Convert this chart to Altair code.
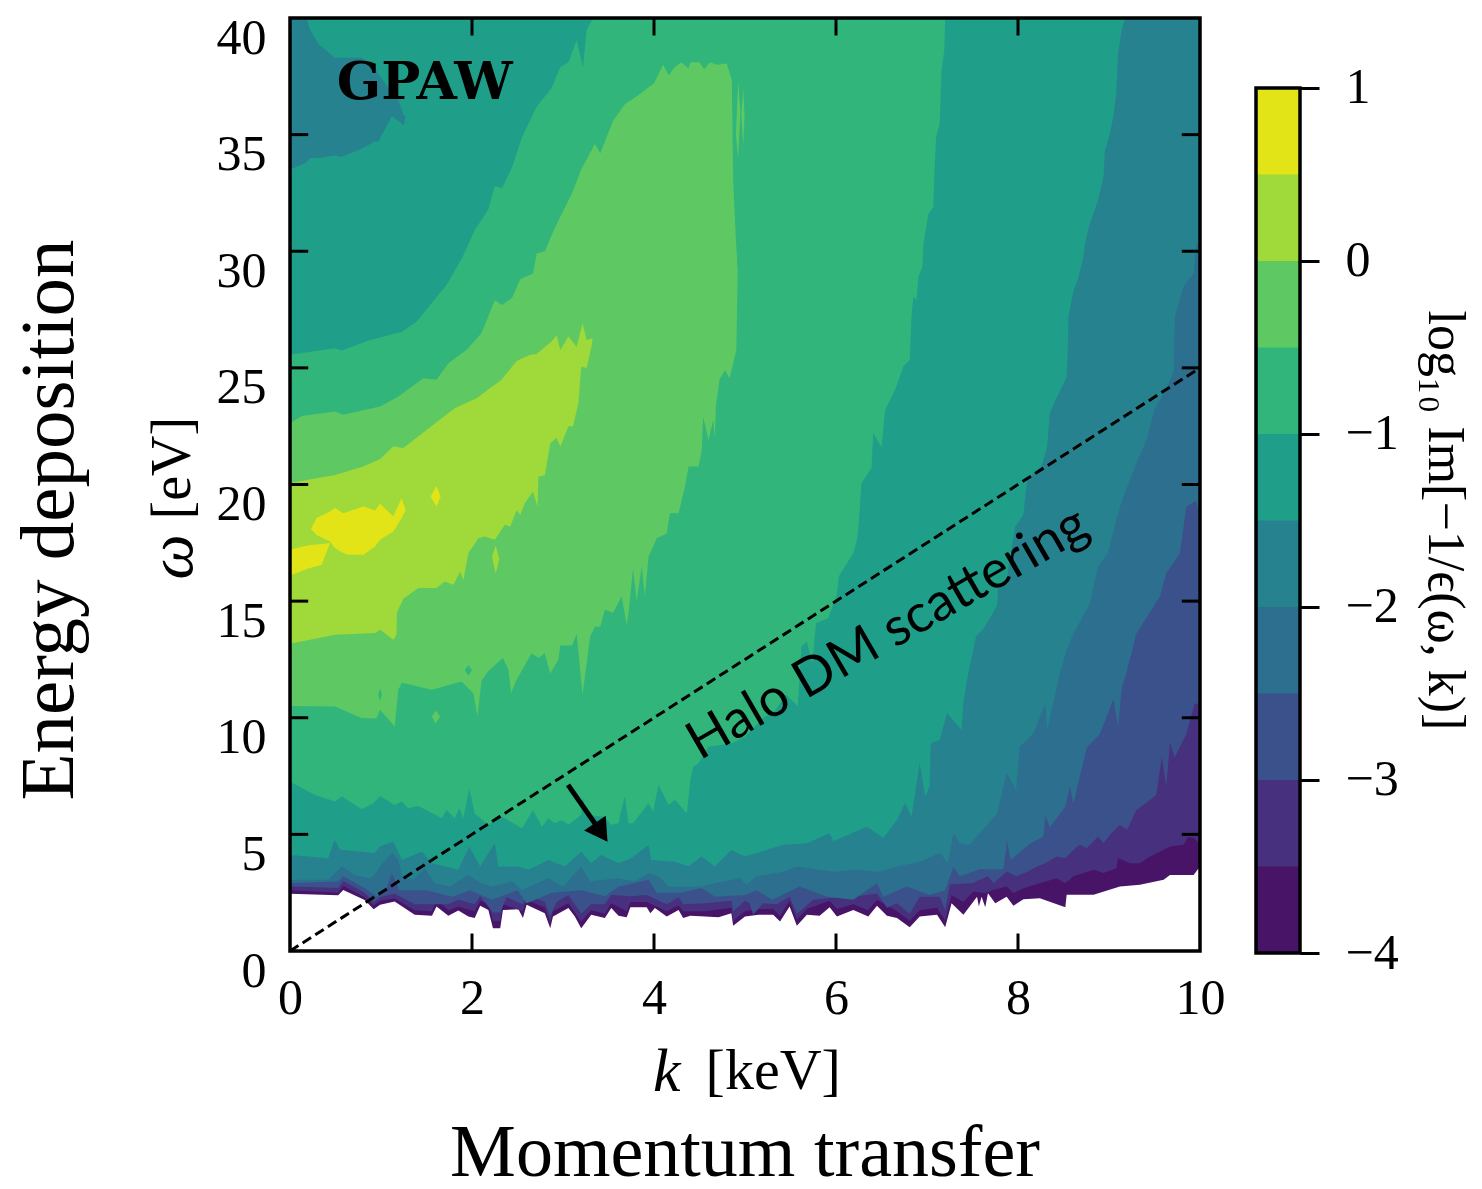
import altair as alt
import pandas as pd

SERIF = "Liberation Serif"

# boundaries: (k in keV, omega in eV)
edge_a = [(0,2.45),(.53,2.39),(.585,2.62),(.82,2.19),(.92,1.79),(.99,1.98),(1.15,2.12),(1.37,1.55),(1.56,1.51),(1.61,1.91),(1.74,1.51),(1.85,1.74),(1.96,1.48),(2.03,1.41),(2.09,1.94),(2.18,1.76),(2.23,.98),(2.31,.98),(2.34,1.76),(2.51,1.79),(2.56,1.41),(2.6,1.98),(2.8,1.62),(2.86,.98),(2.89,1.48),(3.06,1.84),(3.13,1.48),(3.2,.98),(3.31,1.55),(3.46,1.41),(3.53,1.84),(3.61,1.51),(3.7,1.45),(3.74,1.88),(3.92,1.88),(3.96,1.62),(4.01,1.84),(4.14,1.48),(4.27,1.76),(4.32,1.41),(4.4,1.51),(4.56,1.48),(4.71,1.45),(4.85,1.62),(4.87,1.08),(5.0,1.48),(5.15,1.55),(5.31,1.55),(5.385,1.26),(5.49,1.91),(5.57,1.08),(5.68,1.55),(5.82,1.51),(5.93,1.88),(6.01,1.48),(6.19,1.76),(6.355,1.48),(6.45,1.94),(6.56,1.51),(6.67,1.41),(6.81,1.02),(6.92,1.48),(7.11,1.55),(7.2,1.02),(7.27,2.05),(7.4,1.55),(7.55,2.33),(7.57,1.91),(7.6,2.33),(7.64,1.88),(7.67,2.48),(7.75,2.05),(7.875,2.33),(7.95,1.94),(8.06,2.22),(8.24,2.26),(8.52,1.88),(8.535,2.41),(8.83,2.41),(9.12,2.76),(9.34,2.84),(9.6,3.05),(9.67,3.26),(9.93,3.26),(10,3.62)]
edge_b = [(0,2.6),(.53,2.5),(.585,2.8),(.82,2.3),(.92,1.95),(.99,2.15),(1.15,2.25),(1.37,1.75),(1.56,1.7),(1.61,2.2),(1.74,1.75),(1.85,1.9),(2.03,1.7),(2.09,2.15),(2.18,2.0),(2.23,1.3),(2.31,1.3),(2.34,2.0),(2.56,1.7),(2.6,2.2),(2.8,1.85),(2.86,1.2),(2.89,1.7),(3.06,2.05),(3.2,1.25),(3.31,1.75),(3.46,1.6),(3.53,2.05),(3.7,1.7),(3.74,2.1),(3.92,2.1),(4.14,1.7),(4.27,1.95),(4.32,1.7),(4.56,1.7),(4.85,1.85),(4.87,1.3),(5.0,1.7),(5.15,1.8),(5.31,1.8),(5.385,1.5),(5.49,2.15),(5.57,1.35),(5.68,1.8),(5.93,2.15),(6.01,1.8),(6.19,2.0),(6.355,1.75),(6.45,2.2),(6.67,1.7),(6.81,1.3),(6.92,1.75),(7.11,1.85),(7.2,1.3),(7.27,2.4),(7.4,2.1),(7.51,2.55),(7.64,2.48),(7.73,2.62),(7.875,2.76),(7.95,2.48),(8.06,2.69),(8.24,2.9),(8.425,3.12),(8.52,2.9),(8.61,3.2),(8.83,3.48),(8.94,3.34),(9.08,3.55),(9.1,3.98),(9.23,3.76),(9.34,3.76),(9.45,4.05),(9.56,4.26),(9.67,4.48),(9.82,4.55),(9.87,4.9),(9.93,4.84),(10,4.6)]
edge_c = [(0,2.77),(.53,2.7),(.585,3.0),(.82,2.5),(.92,2.1),(.99,2.3),(1.15,2.45),(1.37,2.0),(1.56,2.0),(1.74,2.0),(1.85,2.2),(2.03,2.0),(2.09,2.35),(2.23,1.65),(2.31,1.65),(2.38,2.3),(2.56,2.0),(2.6,2.4),(2.8,2.1),(2.86,1.5),(2.93,2.1),(3.06,2.4),(3.2,1.6),(3.31,2.0),(3.46,2.0),(3.53,2.4),(3.74,2.35),(3.92,2.4),(4.14,2.0),(4.27,2.3),(4.32,2.0),(4.56,2.05),(4.85,2.15),(4.87,1.7),(5.0,2.15),(5.05,2.05),(5.09,1.55),(5.2,2.05),(5.35,2.0),(5.49,2.33),(5.57,1.6),(5.75,2.2),(5.93,2.27),(6.19,2.33),(6.45,2.47),(6.56,1.85),(6.67,2.05),(6.81,1.6),(6.92,2.33),(7.14,2.33),(7.2,1.75),(7.25,2.85),(7.51,2.91),(7.58,3.05),(7.67,3.2),(7.73,2.9),(7.875,3.4),(7.985,3.2),(8.1,3.4),(8.2,3.6),(8.3,3.76),(8.425,4.05),(8.52,3.98),(8.63,4.4),(8.68,4.55),(8.755,4.4),(8.88,4.9),(8.94,4.62),(9.01,4.98),(9.12,5.4),(9.2,5.2),(9.3,6.05),(9.41,6.34),(9.52,6.7),(9.58,8.3),(9.63,7.05),(9.67,8.95),(9.72,8.3),(9.85,9.3),(9.94,10.6),(10,10.6)]
edge_d = [(0,2.9),(.53,2.98),(.585,3.2),(.82,2.7),(.95,2.35),(1.05,2.6),(1.12,3.33),(1.2,2.6),(1.5,2.6),(1.78,2.33),(1.98,2.6),(2.22,2.2),(2.5,2.6),(2.6,2.05),(2.88,2.5),(3.2,2.6),(3.46,2.35),(3.61,2.75),(3.94,3.05),(4.03,2.5),(4.3,2.5),(4.52,2.7),(4.67,2.33),(5.0,2.4),(5.13,2.6),(5.3,2.2),(5.6,2.77),(5.9,2.33),(6.19,2.2),(6.45,2.9),(6.52,2.33),(6.78,2.77),(7.03,2.4),(7.2,2.6),(7.29,3.6),(7.36,3.2),(7.58,3.5),(7.84,3.5),(7.88,4.7),(7.92,3.9),(8.13,4.6),(8.28,4.9),(8.3,5.8),(8.35,5.3),(8.52,6.2),(8.57,7.05),(8.61,6.3),(8.68,7.5),(8.755,8.7),(8.9,9.3),(9.05,10.8),(9.1,9.6),(9.14,11.3),(9.19,11.9),(9.3,13.6),(9.56,15.2),(9.63,16.2),(9.78,17.06),(9.82,18.2),(9.85,19.06),(9.96,19.3),(10,18.6)]
edge_e = [(0,3.05),(.42,3.05),(.57,3.62),(.71,3.26),(.88,3.12),(.95,3.33),(.99,3.62),(1.12,4.2),(1.19,3.9),(1.23,3.2),(1.36,3.05),(1.48,3.55),(1.59,2.9),(1.76,2.77),(1.96,3.26),(2.1,2.9),(2.22,2.77),(2.44,2.98),(2.55,2.62),(2.84,3.12),(3.0,2.77),(3.2,3.62),(3.3,2.98),(3.46,3.05),(3.61,3.12),(3.79,2.98),(3.94,3.33),(4.05,3.2),(4.16,2.77),(4.52,2.77),(4.67,2.9),(4.945,3.12),(5.02,2.84),(5.13,3.2),(5.42,3.4),(5.57,3.62),(5.97,3.4),(6.23,3.48),(6.48,3.4),(6.67,3.62),(6.92,3.83),(7.14,4.2),(7.23,3.77),(7.29,5.05),(7.36,4.62),(7.47,4.55),(7.58,5.05),(7.77,5.9),(7.84,7.05),(7.875,7.62),(7.98,6.9),(8.02,8.76),(8.17,9.34),(8.3,10.6),(8.32,9.5),(8.42,11.2),(8.46,11.9),(8.535,12.9),(8.61,13.6),(8.79,14.9),(8.88,16.5),(8.99,17.06),(9.08,18.5),(9.16,19.5),(9.3,20.9),(9.41,21.9),(9.5,23.2),(9.6,23.9),(9.71,24.8),(9.725,27.2),(9.82,28.5),(9.93,29.05),(9.96,30.3),(10,30.3)]
edge_f = [(0,4.12),(.42,3.98),(.49,4.76),(.55,4.34),(.93,4.2),(.99,4.48),(1.135,4.69),(1.23,3.9),(1.45,4.26),(1.56,3.76),(1.85,3.48),(1.97,4.48),(2.09,3.62),(2.25,4.62),(2.29,3.62),(2.51,3.62),(2.62,3.48),(2.84,3.9),(3.02,3.62),(3.2,4.26),(3.31,3.76),(3.42,4.12),(3.61,3.76),(3.75,3.98),(3.94,4.55),(3.97,3.9),(4.23,3.83),(4.38,3.62),(4.52,4.05),(4.67,3.62),(4.85,4.33),(5.0,4.05),(5.13,4.2),(5.42,4.55),(5.68,4.62),(5.93,5.05),(5.97,4.7),(6.34,5.33),(6.52,4.84),(6.67,5.62),(6.76,6.34),(6.83,5.76),(6.92,8.05),(6.98,6.62),(7.03,7.05),(7.04,8.9),(7.14,9.05),(7.22,10.2),(7.38,9.48),(7.4,10.62),(7.44,11.63),(7.54,13.5),(7.62,13.8),(7.77,14.8),(7.78,15.5),(7.875,15.9),(7.97,18.2),(8.06,18.7),(8.1,20.2),(8.26,20.8),(8.32,21.6),(8.35,23.05),(8.41,23.6),(8.535,24.6),(8.55,26.05),(8.555,27.2),(8.61,28.3),(8.66,28.8),(8.72,29.8),(8.735,30.3),(8.79,31.2),(8.88,32.2),(8.94,33.2),(8.955,34.3),(9.01,35.05),(9.05,35.8),(9.08,36.8),(9.1,38.5),(9.14,39.5),(9.18,40)]
edge_g = [(0,7.26),(.275,6.69),(.495,6.41),(.57,6.62),(.79,6.08),(.915,6.33),(.99,6.65),(1.15,6.26),(1.23,6.41),(1.3,6.12),(1.41,6.22),(1.67,5.69),(1.72,6.05),(1.81,5.69),(1.86,6.12),(1.905,5.69),(1.97,6.98),(2.03,5.9),(2.18,5.41),(2.33,5.76),(2.55,5.26),(2.67,6.05),(2.77,5.33),(2.84,5.69),(2.91,5.48),(2.985,5.62),(3.06,5.41),(3.2,5.84),(3.225,6.62),(3.24,5.84),(3.46,5.76),(3.53,5.41),(3.61,5.48),(3.63,5.9),(3.68,6.62),(3.72,5.48),(3.77,5.48),(3.94,6.33),(3.99,5.98),(4.05,7.12),(4.16,6.26),(4.23,6.48),(4.36,5.9),(4.4,7.34),(4.43,7.9),(4.49,8.05),(4.6,8.76),(4.85,8.9),(5.0,9.19),(5.2,10.0),(5.33,10.3),(5.45,11.0),(5.58,10.5),(5.6,11.8),(5.62,13.06),(5.68,13.27),(5.74,12.3),(5.78,14.06),(5.915,14.27),(6.01,15.3),(6.03,16.06),(6.19,17.06),(6.23,17.6),(6.25,18.34),(6.28,20.06),(6.39,20.7),(6.41,22.2),(6.5,21.6),(6.54,23.2),(6.65,24.06),(6.74,25.06),(6.81,25.34),(6.815,25.77),(6.83,27.2),(6.85,28.05),(6.885,27.9),(6.905,28.9),(6.95,29.34),(6.96,30.3),(7.015,31.6),(7.07,31.9),(7.08,33.2),(7.1,34.9),(7.14,35.5),(7.16,37.8),(7.19,38.6),(7.2,40)]
cover_f = [(0,25.56),(.49,25.84),(.57,25.74),(.88,26.2),(1.23,26.55),(1.39,26.98),(1.52,27.6),(1.72,28.55),(1.89,29.7),(2.03,30.9),(2.18,31.8),(2.25,32.8),(2.33,32.7),(2.44,33.6),(2.55,34.9),(2.71,36.2),(2.875,37),(2.97,37.9),(3.06,38.1),(3.15,39.05),(3.22,37.9),(3.26,39.5),(3.33,40)]
edge_h = [(0,10.5),(.495,10.48),(.79,9.98),(.95,9.98),(.99,10.34),(1.15,9.62),(1.19,11.2),(1.23,11.5),(1.56,11.2),(1.885,11.55),(2.015,11.05),(2.06,10.05),(2.105,11.6),(2.18,12),(2.34,12.56),(2.4,12.06),(2.43,11.05),(2.49,11.63),(2.655,12.77),(2.73,12.56),(2.8,12.77),(2.86,11.9),(2.95,12.5),(2.97,13.1),(3.1,13.1),(3.15,13.6),(3.215,11.0),(3.3,13.5),(3.35,13.9),(3.41,13.9),(3.46,14.63),(3.55,14.5),(3.645,15.2),(3.7,14),(3.72,14.5),(3.77,16.4),(3.81,15),(3.865,16.5),(3.9,15.2),(3.94,16.9),(4.03,17.7),(4.14,17.9),(4.175,18.77),(4.27,18.77),(4.34,19.9),(4.38,20.77),(4.49,20.77),(4.525,21.5),(4.54,22.9),(4.6,21.9),(4.65,22.77),(4.67,22.0),(4.68,23.34),(4.72,24.5),(4.78,24.9),(4.83,24.56),(4.905,25.77),(4.91,27),(4.92,29.2)]
cover_g = [(0,22.63),(.13,22.94),(.495,23.13),(.585,22.99),(.99,23.34),(1.19,23.77),(1.465,24.56),(1.61,24.49),(1.74,25.2),(1.89,25.63),(1.94,25.77),(2.105,26.5),(2.25,27.9),(2.33,27.7),(2.44,28),(2.53,28.8),(2.67,29.05),(2.71,29.9),(2.8,30),(2.91,31),(3.1,32.5),(3.2,33.5),(3.35,34.6),(3.41,34.2),(3.48,34.9),(3.55,35.6),(3.68,36.3),(3.83,36.7),(4.0,37.2),(4.1,38),(4.16,37.55),(4.23,37.9),(4.3,38.1),(4.38,37.84),(4.4,38.1),(4.5,38.1),(4.55,37.8),(4.615,38.1),(4.69,38.0),(4.8,38.05),(4.855,37.34),(4.87,33),(4.9,30.5),(4.92,29.2),(4.94,29.2)]
edge_i = [(0,13.17),(.495,13.56),(.935,13.63),(.99,13.77),(1.135,13.34),(1.17,13.56),(1.175,14.5),(1.245,15.1),(1.41,15.56),(1.61,15.56),(1.7,15.84),(1.795,15.7),(1.87,16.27),(1.905,15.9),(1.96,17.06),(2.07,17.7),(2.14,17.77),(2.25,17.63),(2.36,18.27),(2.42,18.2),(2.49,18.9),(2.53,18.7),(2.58,19.2),(2.67,19.7),(2.72,19.06),(2.73,20.34),(2.8,20.4),(2.86,21.77),(2.93,22),(2.97,21.63),(3.06,22.5),(3.11,22.5),(3.17,23.5),(3.2,25.06),(3.26,25),(3.32,26.06),(3.325,26.27)]
cover_h = [(0,20.06),(.495,20.41),(.805,20.77),(.99,21.09),(1.135,21.63),(1.245,21.56),(1.81,23.27),(2.05,23.7),(2.325,24.49),(2.49,25.3),(2.64,25.56),(2.71,25.6),(2.875,26.13),(2.93,26.4),(2.97,25.77),(3.06,26.34),(3.15,25.9),(3.215,26.9),(3.26,26.2),(3.325,26.27),(3.35,26.27)]

# closed patches: (k, lower omega, upper omega)
hole_top_left = [(0,33.5,40),(.18,33.8,40),(.22,34,39.5),(.31,34,38.9),(.49,34.1,38.3),(.57,34.05,38.3),(.79,34.4,38.3),(.93,34.7,37.9),(.97,34.7,37.6),(1.12,35.8,36.8),(1.19,35.6,36.5),(1.25,35.4,35.8),(1.27,35.8,35.8)]
lobe_j_main = [(.23,18.09,18.09),(.293,17.84,18.56),(.44,17.56,18.84),(.495,17.27,18.99),(.586,17.06,18.77),(.641,16.99,18.84),(.806,16.99,19.06),(.934,17.34,18.89),(.989,17.63,19.17),(1.135,17.99,18.63),(1.227,18.56,19.41),(1.271,18.91,18.91)]
lobe_j_left = [(0,16.1,17.2),(.2,16.4,17.4),(.348,16.56,17.45),(.44,17.49,17.49)]
lobe_j_dot = [(1.546,19.49,19.49),(1.61,19.06,19.94),(1.655,19.49,19.49)]
isle_i = [(2.22,16.9,16.9),(2.26,16.2,17.4),(2.30,16.8,16.8)]
isle_g_1 = [(1.92,12.05,12.05),(1.96,11.8,12.25),(2.0,12.05,12.05)]
isle_g_2 = [(.97,11.0,11.0),(.99,10.7,11.25),(1.01,11.0,11.0)]
isle_h_1 = [(1.56,10.05,10.05),(1.6,9.75,10.3),(1.65,10.05,10.05)]
isle_h_2 = [(4.9,35,35),(4.925,34,37.3),(4.95,36,36)]
isle_h_3 = [(4.96,35.8,35.8),(4.98,34.5,37),(4.995,35.8,35.8)]

band_edges = [-4, -3.5, -3, -2.5, -2, -1.5, -1, -0.5, 0, 0.5, 1]
band_colors = ["#481467", "#47307d", "#3b518b", "#2c6f8e", "#26828e", "#1f9e89", "#31b57b", "#5ec962", "#9fda3a", "#e2e418"]
x_ticks = [0, 2, 4, 6, 8, 10]
y_ticks = [0, 5, 10, 15, 20, 25, 30, 35, 40]
dm_line = [(0, 0), (10, 25)]
arrow_shaft = [(3.055, 7.12), (3.42, 5.08)]

xs = alt.Scale(domain=[0, 10], nice=False, zero=False)
ys = alt.Scale(domain=[0, 40], nice=False, zero=False)
X = lambda f: alt.X(f, type="quantitative", scale=xs, title=None)
Y = lambda f: alt.Y(f, type="quantitative", scale=ys, title=None)


def upward(points, color):
    df = pd.DataFrame(points, columns=["k", "w"]).assign(top=40)
    return alt.Chart(df).mark_area(color=color, orient="vertical", opacity=1).encode(
        x=X("k"), y=Y("w"), y2="top")


def patch(points, color):
    df = pd.DataFrame(points, columns=["k", "lo", "hi"])
    return alt.Chart(df).mark_area(color=color, orient="vertical", opacity=1).encode(
        x=X("k"), y=Y("lo"), y2="hi")


c = band_colors

# axes (labels only, the ticks point inwards and are drawn below)
axes_base = alt.Chart(pd.DataFrame({"k": [0.0], "w": [0.0]})).mark_point(opacity=0).encode(
    x=alt.X("k:Q", scale=xs, title=None, axis=alt.Axis(values=x_ticks, ticks=False, domain=False, grid=False, format="d",
            labelFont=SERIF, labelFontSize=50, labelColor="black", labelPadding=22, labelFlush=False, labelOverlap=False, labelBound=False)),
    y=alt.Y("w:Q", scale=ys, title=None, axis=alt.Axis(values=y_ticks, ticks=False, domain=False, grid=False, format="d",
            labelFont=SERIF, labelFontSize=50, labelColor="black", labelPadding=24, labelBaseline="top", labelOffset=-5, labelFlush=False, labelOverlap=False, labelBound=False)),
)

layers = [
    axes_base,
    upward(edge_a, c[0]), upward(edge_b, c[1]), upward(edge_c, c[2]), upward(edge_d, c[3]),
    upward(edge_e, c[4]), upward(edge_f, c[5]), upward(edge_g, c[6]),
    upward(edge_h, c[7]), upward(edge_i, c[8]),
    upward(cover_h, c[7]), upward(cover_g, c[6]), upward(cover_f, c[5]),
    patch(hole_top_left, c[4]),
    patch(isle_g_1, c[6]), patch(isle_g_2, c[6]), patch(isle_h_1, c[7]), patch(isle_h_2, c[7]), patch(isle_h_3, c[7]),
    patch(isle_i, c[8]),
    patch(lobe_j_main, c[9]), patch(lobe_j_left, c[9]), patch(lobe_j_dot, c[9]),
]

# inward ticks on all four sides
tx = pd.DataFrame([{"k": v, "a": e, "b": e + d} for v in x_ticks[1:-1] for e, d in ((0, .75), (40, -.75))])
ty = pd.DataFrame([{"w": v, "a": e, "b": e + d} for v in y_ticks[1:-1] for e, d in ((0, .2), (10, -.2))])
layers.append(alt.Chart(tx).mark_rule(color="black", strokeWidth=3).encode(x=X("k"), y=Y("a"), y2="b"))
layers.append(alt.Chart(ty).mark_rule(color="black", strokeWidth=3).encode(y=Y("w"), x=X("a"), x2="b"))

# dashed halo line and arrow
layers.append(alt.Chart(pd.DataFrame(dm_line, columns=["k", "w"])).mark_line(color="black", strokeWidth=3, strokeDash=[10, 5]).encode(x=X("k"), y=Y("w")))
layers.append(alt.Chart(pd.DataFrame(arrow_shaft, columns=["k", "w"])).mark_line(color="black", strokeWidth=5).encode(x=X("k"), y=Y("w")))
layers.append(alt.Chart(pd.DataFrame([arrow_shaft[1]], columns=["k", "w"])).mark_point(
    shape="triangle-up", filled=True, color="black", opacity=1, size=680, angle=146).encode(x=X("k"), y=Y("w")))

# frame
layers.append(alt.Chart(pd.DataFrame({"a": [0], "b": [10], "c": [0], "d": [40]})).mark_rect(
    fillOpacity=0, stroke="black", strokeWidth=3.5).encode(x=X("a"), x2="b", y=Y("c"), y2="d"))


def label(text, k, w, size, angle=0, font=SERIF, weight="normal", style="normal"):
    df = pd.DataFrame({"t": [text], "k": [k], "w": [w]})
    return alt.Chart(df).mark_text(font=font, fontSize=size, angle=angle, fontWeight=weight, fontStyle=style,
                                   color="black", align="center", baseline="middle").encode(
        x=X("k"), y=Y("w"), text="t:N")


layers += [
    label("GPAW", 1.48, 37.2, 52, font="DejaVu Serif", weight="bold"),
    label("Halo DM scattering", 6.57, 13.6, 53, angle=330, font="Lato"),
    label("k", 4.14, -5.2, 62, style="italic"),
    label("[keV]", 5.31, -5.2, 58),
    label("Momentum transfer", 5.0, -8.72, 74),
    label("Energy deposition", -2.64, 18.48, 77, angle=270),
    label("ω", -1.29, 16.9, 64, angle=270, style="italic"),
    label("[eV]", -1.29, 20.7, 56, angle=270),
]

main = alt.layer(*layers).properties(width=910, height=933)

# colour bar
cb_y = alt.Scale(domain=[-4, 1.4046], nice=False, zero=False)
cb_x = alt.Scale(domain=[0, 1], nice=False, zero=False)
cb_df = pd.DataFrame({"lo": band_edges[:-1], "top": 1, "color": band_colors, "a": 0, "b": 1})
cb_rect = alt.Chart(cb_df).mark_rect().encode(
    x=alt.X("a:Q", scale=cb_x, title=None, axis=None), x2="b",
    y=alt.Y("lo:Q", scale=cb_y, title=None, axis=alt.Axis(
        orient="right", values=[-4, -3, -2, -1, 0, 1], format="d", domain=False, grid=False,
        tickSize=19, tickWidth=3, tickColor="black", labelFont=SERIF, labelFontSize=50, labelColor="black",
        labelAlign="left", labelPadding=26, labelFlush=False, labelOverlap=False, labelBound=False)),
    y2="top",
    color=alt.Color("color:N", scale=None, legend=None),
    order=alt.Order("lo:Q"),
)
cb_frame = alt.Chart(pd.DataFrame({"a": [0], "b": [1], "c": [-4], "d": [1]})).mark_rect(
    fillOpacity=0, stroke="black", strokeWidth=3.5).encode(
    x=alt.X("a:Q", scale=cb_x, title=None, axis=None), x2="b",
    y=alt.Y("c:Q", scale=cb_y, title=None), y2="d")
cb_title = alt.Chart(pd.DataFrame({"t": ["log₁₀ Im[−1/ϵ(ω, k)]"], "a": [4.3], "c": [-1.5]})).mark_text(
    font=SERIF, fontSize=52, angle=90, color="black", align="center", baseline="middle").encode(
    x=alt.X("a:Q", scale=cb_x, title=None, axis=None),
    y=alt.Y("c:Q", scale=cb_y, title=None), text="t:N")
bar = alt.layer(cb_rect, cb_frame, cb_title).properties(width=44, height=935)

chart = alt.hconcat(main, bar, spacing=29, background="white",
                    padding={"left": 2, "top": 5, "right": 0, "bottom": 0}).configure_view(strokeWidth=0, stroke="transparent")
chart.save("out.html", embed_options={"renderer": "svg", "actions": False})
